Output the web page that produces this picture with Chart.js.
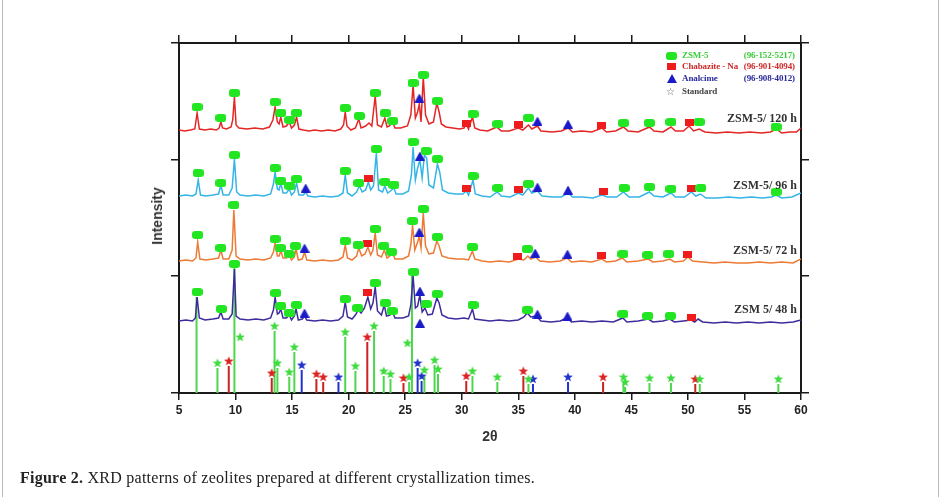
<!DOCTYPE html>
<html>
<head>
<meta charset="utf-8">
<script src="https://cdn.jsdelivr.net/npm/chart.js@4.4.0/dist/chart.umd.min.js"></script>
<style>
  body { margin: 0; background: #fff; }
  #wrap { position: relative; width: 941px; height: 497px; overflow: hidden; }
  #xrdChart { position: absolute; left: 0; top: 0; }
  .frame { position: absolute; top: 0; bottom: 0; width: 1px; background: #b8b8b8; }
  .tag { position: absolute; right: 144px; font: bold 12px 'Liberation Serif', serif; color: #333; white-space: nowrap; line-height: 14px; }
  .leg { position: absolute; left: 682px; width: 113px; display: flex; justify-content: space-between; font: bold 9px 'Liberation Serif', serif; line-height: 11px; white-space: nowrap; letter-spacing: -0.1px; }
  .sym { position: absolute; }
  #ytitle { position: absolute; left: 157px; top: 216px; transform: translate(-50%, -50%) rotate(-90deg); font: bold 14px 'Liberation Sans', Arial, sans-serif; color: #333; }
  #xtitle { position: absolute; left: 490px; top: 436px; transform: translate(-50%, -50%); font: bold 14px 'Liberation Sans', Arial, sans-serif; color: #333; }
  #caption { position: absolute; left: 20px; top: 468px; font: 16px 'Liberation Serif', serif; color: #222; white-space: nowrap; letter-spacing: 0.25px; line-height: 19px; }
</style>
</head>
<body>
<div id="wrap">
  <canvas id="xrdChart" width="941" height="497"></canvas>
  <div class="frame" style="left:2px"></div>
  <div class="frame" style="left:938px"></div>

  <div class="sym" style="left:666px;top:52px;width:11px;height:8px;border-radius:3px;background:#22e622"></div>
  <div class="sym" style="left:667px;top:63px;width:9px;height:7px;background:#ee1c1c"></div>
  <div class="sym" style="left:667px;top:74px;width:0;height:0;border-left:5px solid transparent;border-right:5px solid transparent;border-bottom:9px solid #1a1ac8"></div>
  <div class="sym" style="left:666px;top:86px;font:10px 'DejaVu Sans';color:#555;line-height:12px">☆</div>
  <div class="leg" style="top:50px;color:#3ccc3c"><span>ZSM-5</span><span>(96-152-5217)</span></div>
  <div class="leg" style="top:61px;color:#cc2a2a"><span>Chabazite - Na</span><span>(96-901-4094)</span></div>
  <div class="leg" style="top:73px;color:#2a2a9e"><span>Analcime</span><span>(96-908-4012)</span></div>
  <div class="leg" style="top:86px;color:#444"><span>Standard</span></div>

  <div class="tag" style="top:111px">ZSM-5/ 120 h</div>
  <div class="tag" style="top:178px">ZSM-5/ 96 h</div>
  <div class="tag" style="top:243px">ZSM-5/ 72 h</div>
  <div class="tag" style="top:302px">ZSM 5/ 48 h</div>

  <div id="ytitle">Intensity</div>
  <div id="xtitle">2θ</div>
  <div id="caption"><b>Figure 2.</b> XRD patterns of zeolites prepared at different crystallization times.</div>
</div>
<script>
// measured patterns, [2theta, intensity incl. stacking offset]
const pattern120h = [
  [5.0, 263], [5.5, 262], [6.0, 263], [6.4, 264], [6.6, 280], [6.8, 264], [7.3, 263], [7.8, 264], [8.3, 263],
  [8.55, 265], [8.7, 271], [8.85, 265], [9.2, 264], [9.6, 266], [9.75, 273], [9.9, 296], [10.05, 268], [10.3, 265],
  [11.0, 264], [11.7, 265], [12.4, 264], [13.0, 266], [13.3, 273], [13.5, 286], [13.7, 271], [13.85, 269], [14.0, 276],
  [14.2, 266], [14.5, 267], [14.75, 271], [14.95, 265], [15.2, 268], [15.4, 276], [15.6, 264], [16.0, 263], [16.5, 262],
  [17.0, 263], [17.6, 262], [18.2, 263], [18.8, 262], [19.3, 264], [19.55, 268], [19.7, 281], [19.85, 267], [20.2, 263],
  [20.6, 265], [20.9, 274], [21.1, 265], [21.5, 267], [21.8, 270], [22.05, 267], [22.35, 297], [22.55, 268], [22.9, 266],
  [23.2, 275], [23.4, 266], [23.6, 267], [23.9, 271], [24.1, 265], [24.6, 265], [25.2, 267], [25.5, 278], [25.7, 308],
  [25.9, 275], [26.1, 281], [26.25, 289], [26.4, 271], [26.6, 316], [26.8, 278], [27.1, 269], [27.5, 271], [27.8, 290],
  [28.0, 281], [28.2, 269], [28.6, 266], [29.2, 265], [29.8, 264], [30.2, 265], [30.4, 269], [30.6, 264], [30.95, 276],
  [31.15, 265], [31.6, 263], [32.3, 262], [33.1, 266], [33.5, 262], [34.2, 262], [35.0, 265], [35.4, 263], [35.9, 268],
  [36.2, 264], [36.7, 267], [37.0, 262], [38.0, 261], [38.8, 262], [39.4, 265], [39.8, 261], [40.6, 262], [41.5, 261],
  [42.4, 265], [42.8, 261], [43.6, 262], [44.3, 266], [44.7, 262], [45.6, 261], [46.6, 266], [47.0, 262], [47.8, 261],
  [48.5, 266], [48.9, 262], [49.6, 262], [50.1, 267], [50.5, 262], [51.0, 264], [51.5, 261], [52.5, 260], [53.5, 261],
  [54.5, 260], [55.5, 261], [56.5, 260], [57.3, 261], [57.8, 264], [58.3, 260], [59.0, 261], [59.6, 261], [60.0, 265]
]
const pattern96h = [
  [5.0, 197], [5.6, 198], [6.2, 197], [6.5, 199], [6.7, 213], [6.9, 198], [7.4, 197], [8.0, 198], [8.5, 199],
  [8.7, 208], [8.9, 198], [9.4, 198], [9.7, 205], [9.9, 234], [10.1, 201], [10.4, 198], [11.1, 197], [11.8, 198],
  [12.5, 197], [13.1, 199], [13.35, 209], [13.5, 221], [13.7, 204], [13.85, 203], [14.0, 210], [14.2, 200], [14.5, 200],
  [14.75, 204], [14.95, 198], [15.2, 201], [15.4, 210], [15.6, 198], [16.0, 198], [16.2, 201], [16.4, 197], [17.0, 196],
  [17.7, 197], [18.4, 196], [19.1, 197], [19.5, 200], [19.7, 218], [19.9, 200], [20.3, 197], [20.7, 201], [20.95, 207],
  [21.2, 201], [21.5, 203], [21.75, 211], [21.95, 203], [22.2, 207], [22.45, 240], [22.65, 203], [23.0, 201], [23.2, 207],
  [23.45, 200], [23.7, 202], [24.0, 205], [24.2, 199], [24.8, 199], [25.3, 202], [25.55, 218], [25.7, 246], [25.9, 213],
  [26.1, 225], [26.3, 233], [26.5, 215], [26.7, 238], [26.9, 235], [27.1, 208], [27.5, 205], [27.85, 229], [28.05, 221],
  [28.3, 203], [28.8, 200], [29.5, 199], [30.1, 199], [30.4, 202], [30.6, 198], [31.0, 213], [31.2, 199], [31.8, 197],
  [32.5, 196], [33.15, 201], [33.5, 197], [34.3, 196], [35.0, 200], [35.4, 198], [35.9, 205], [36.2, 200], [36.7, 202],
  [37.1, 197], [38.0, 196], [38.8, 196], [39.4, 200], [39.8, 196], [40.7, 196], [41.6, 195], [42.4, 198], [42.9, 196],
  [43.7, 196], [44.3, 201], [44.8, 196], [45.7, 196], [46.6, 201], [47.0, 197], [47.8, 196], [48.5, 200], [48.9, 196],
  [49.7, 196], [50.3, 201], [50.7, 197], [51.1, 199], [51.6, 195], [52.6, 195], [53.6, 196], [54.6, 195], [55.6, 196],
  [56.6, 195], [57.4, 196], [57.8, 198], [58.3, 195], [59.2, 196], [60.0, 200]
]
const pattern72h = [
  [5.0, 132], [5.6, 133], [6.2, 132], [6.5, 135], [6.65, 151], [6.85, 134], [7.4, 133], [8.0, 134], [8.5, 135],
  [8.7, 143], [8.9, 134], [9.4, 134], [9.7, 143], [9.85, 183], [10.05, 137], [10.4, 134], [11.1, 133], [11.8, 134],
  [12.5, 133], [13.1, 135], [13.35, 141], [13.5, 150], [13.7, 137], [13.85, 137], [14.0, 142], [14.2, 135], [14.5, 135],
  [14.75, 137], [14.95, 133], [15.2, 136], [15.35, 144], [15.55, 133], [15.9, 134], [16.1, 141], [16.3, 133], [17.0, 132],
  [17.7, 133], [18.4, 132], [19.1, 133], [19.5, 136], [19.7, 148], [19.9, 135], [20.3, 133], [20.7, 137], [20.9, 145],
  [21.15, 137], [21.45, 139], [21.7, 146], [21.95, 138], [22.15, 143], [22.35, 160], [22.55, 138], [22.9, 136], [23.15, 143],
  [23.4, 135], [23.65, 137], [23.85, 141], [24.1, 134], [24.8, 134], [25.3, 137], [25.5, 148], [25.65, 168], [25.85, 143],
  [26.1, 151], [26.25, 157], [26.4, 145], [26.6, 180], [26.8, 147], [27.1, 139], [27.5, 140], [27.8, 152], [28.0, 147],
  [28.25, 137], [28.8, 135], [29.5, 134], [30.2, 134], [30.6, 133], [30.95, 142], [31.15, 134], [31.8, 132], [32.5, 131],
  [33.3, 132], [34.2, 131], [35.0, 134], [35.5, 133], [35.85, 137], [36.1, 134], [36.55, 136], [36.9, 132], [37.8, 131],
  [38.7, 132], [39.3, 135], [39.7, 131], [40.6, 132], [41.5, 131], [42.4, 134], [42.8, 131], [43.6, 132], [44.2, 135],
  [44.6, 131], [45.6, 132], [46.5, 134], [46.9, 131], [47.8, 132], [48.4, 134], [48.8, 131], [49.6, 132], [50.0, 136],
  [50.4, 132], [51.3, 131], [52.3, 130], [53.3, 131], [54.3, 130], [55.3, 130], [56.3, 131], [57.3, 130], [58.3, 131],
  [59.3, 130], [60.0, 134]
]
const pattern48h = [
  [5.0, 72], [5.6, 73], [6.2, 72], [6.45, 75], [6.6, 96], [6.8, 75], [7.3, 73], [8.0, 74], [8.5, 75], [8.7, 81],
  [8.9, 74], [9.4, 74], [9.7, 79], [9.9, 124], [10.05, 77], [10.4, 74], [11.1, 73], [11.8, 74], [12.5, 73], [13.1, 75],
  [13.35, 83], [13.5, 96], [13.7, 79], [13.85, 80], [14.0, 84], [14.2, 75], [14.5, 75], [14.75, 78], [14.95, 73],
  [15.2, 77], [15.35, 84], [15.55, 73], [15.9, 74], [16.1, 77], [16.3, 73], [17.0, 72], [17.7, 73], [18.4, 72],
  [19.1, 73], [19.5, 77], [19.7, 91], [19.9, 76], [20.3, 74], [20.6, 78], [20.85, 83], [21.1, 80], [21.4, 85],
  [21.7, 96], [21.95, 84], [22.15, 90], [22.35, 106], [22.55, 82], [22.9, 78], [23.15, 88], [23.35, 77], [23.65, 78],
  [23.85, 82], [24.1, 75], [24.8, 75], [25.3, 77], [25.5, 88], [25.7, 117], [25.9, 85], [26.1, 87], [26.3, 98],
  [26.5, 81], [26.75, 85], [27.0, 78], [27.4, 79], [27.8, 95], [28.0, 90], [28.25, 78], [28.8, 75], [29.5, 74],
  [30.2, 75], [30.6, 74], [30.95, 84], [31.15, 74], [31.8, 73], [32.5, 72], [33.3, 73], [34.2, 72], [35.0, 73],
  [35.5, 76], [35.8, 80], [36.1, 76], [36.6, 77], [37.0, 72], [37.9, 71], [38.7, 72], [39.35, 75], [39.7, 71],
  [40.6, 72], [41.5, 71], [42.4, 72], [43.4, 71], [44.25, 75], [44.6, 71], [45.6, 72], [46.5, 74], [46.9, 71],
  [47.8, 72], [48.4, 74], [48.8, 71], [49.6, 72], [50.3, 73], [50.6, 71], [50.9, 74], [51.3, 71], [52.3, 70],
  [53.3, 71], [54.3, 70], [55.3, 71], [56.3, 70], [57.3, 71], [58.3, 70], [59.3, 71], [60.0, 73]
]

// phase markers placed over the peaks
const zsmMarks = [
  [6.6, 286], [8.7, 275], [9.9, 300], [13.5, 291], [14.0, 280], [14.8, 273], [15.4, 280], [19.7, 285], [20.95, 277],
  [22.35, 300], [23.25, 280], [23.9, 272], [25.7, 310], [26.6, 318], [27.85, 292], [31.0, 279], [33.2, 269], [35.9, 275],
  [44.3, 270], [46.6, 270], [48.5, 271], [51.0, 271], [57.8, 266],
  [6.7, 220], [8.7, 210], [9.9, 238], [13.5, 225], [14.0, 212], [14.8, 207], [15.4, 214], [19.7, 222], [20.9, 210],
  [22.45, 244], [23.2, 211], [24.0, 208], [25.7, 251], [26.85, 242], [27.85, 234], [31.0, 217], [33.2, 205], [35.9, 209],
  [44.35, 205], [46.6, 206], [48.5, 204], [51.15, 205], [57.8, 201],
  [6.65, 158], [8.7, 145], [9.85, 188], [13.5, 154], [13.95, 145], [14.75, 139], [15.3, 147], [19.7, 152], [20.85, 148],
  [22.35, 164], [23.1, 147], [23.8, 141], [25.65, 172], [26.6, 184], [27.85, 156], [30.95, 146], [35.8, 144],
  [44.25, 139], [46.45, 138], [48.3, 139],
  [6.6, 101], [8.75, 84], [9.9, 129], [13.55, 100], [14.0, 87], [14.75, 80], [15.4, 88], [19.7, 94], [20.8, 85],
  [22.35, 110], [23.25, 90], [23.85, 82], [25.75, 121], [26.85, 89], [27.85, 99], [31.0, 88], [35.8, 83],
  [44.25, 79], [46.45, 77], [48.45, 77]
]
const chabMarks = [
  [30.4, 270], [35.0, 269], [42.4, 268], [50.1, 271],
  [21.75, 215], [30.4, 205], [35.0, 204], [42.5, 202], [50.35, 205],
  [21.7, 150], [34.95, 137], [42.4, 138], [50.0, 139],
  [21.7, 101], [50.35, 76]
]
const analMarks = [
  [26.25, 295], [36.7, 272], [39.4, 269],
  [16.2, 205], [26.3, 237], [36.7, 206], [39.4, 203],
  [16.1, 145], [26.25, 161], [36.5, 140], [39.35, 139],
  [16.1, 80], [26.3, 102], [26.3, 70], [36.7, 79], [39.35, 77]
]

// standard reference sticks, [2theta, height]
const zsmSticks = [
  [8.4, 25], [13.45, 62], [13.7, 25], [14.75, 16], [15.2, 41], [19.7, 56], [20.6, 22], [22.25, 62], [23.1, 17],
  [23.7, 14], [25.35, 11], [26.7, 18], [27.6, 28], [27.9, 19], [30.95, 17], [33.15, 11], [35.9, 9], [44.3, 11],
  [44.45, 6], [46.6, 10], [48.5, 10], [51.05, 9], [58.0, 9]
]
const zsmTallSticks = [[6.55, 96], [9.9, 130], [25.6, 123]]
const zsmLoneStars = [[10.4, 56], [25.2, 50]]
const chabSticks = [
  [9.4, 27], [13.2, 15], [17.15, 14], [17.75, 11], [21.65, 51], [24.85, 10], [30.4, 12], [35.45, 17], [42.5, 11], [50.65, 9]
]
const analSticks = [[15.85, 23], [19.1, 11], [26.1, 25], [26.45, 12], [36.3, 9], [39.4, 11]]

const xTicksMin = 5
const xTicksMax = 60
const yTicks = [0, 117, 233, 350]

const canvas = document.getElementById('xrdChart')
const ctx = canvas.getContext('2d')

function makeImage (w, h, draw) {
  const c = document.createElement('canvas')
  c.width = w
  c.height = h
  draw(c.getContext('2d'))
  return c
}

function roundedBox (color) {
  return makeImage(11, 8, g => {
    g.fillStyle = color
    g.beginPath()
    g.moveTo(3, 0); g.lineTo(8, 0); g.quadraticCurveTo(11, 0, 11, 3); g.lineTo(11, 5)
    g.quadraticCurveTo(11, 8, 8, 8); g.lineTo(3, 8); g.quadraticCurveTo(0, 8, 0, 5); g.lineTo(0, 3)
    g.quadraticCurveTo(0, 0, 3, 0)
    g.fill()
  })
}

function square (color) {
  return makeImage(9, 7, g => { g.fillStyle = color; g.fillRect(0, 0, 9, 7) })
}

function triangle (color) {
  return makeImage(10, 9, g => {
    g.fillStyle = color
    g.beginPath(); g.moveTo(5, 0); g.lineTo(10, 9); g.lineTo(0, 9); g.closePath(); g.fill()
  })
}

function star (color) {
  return makeImage(10, 10, g => {
    g.fillStyle = color
    g.beginPath()
    for (let i = 0; i < 10; i++) {
      const r = i % 2 === 0 ? 5 : 2.1
      const a = -Math.PI / 2 + i * Math.PI / 5
      g.lineTo(5 + r * Math.cos(a), 5.3 + r * Math.sin(a))
    }
    g.closePath()
    g.fill()
  })
}

const toPoints = arr => arr.map(p => ({ x: p[0], y: p[1] }))

function stickPoints (arr) {
  const pts = []
  arr.forEach(p => {
    pts.push({ x: p[0], y: 0 }, { x: p[0], y: p[1] }, { x: p[0], y: null })
  })
  return pts
}

const starTop = arr => arr.map(p => ({ x: p[0], y: p[1] + 5 }))

function markerSet (data, img) {
  return { type: 'scatter', data: toPoints(data), pointStyle: img, pointRadius: 5, showLine: false }
}

function patternSet (data, color) {
  return { data: toPoints(data), borderColor: color, borderWidth: 1.5, pointRadius: 0, tension: 0, fill: false }
}

function stickSet (data, color) {
  return { data: stickPoints(data), borderColor: color, borderWidth: 2, pointRadius: 0, spanGaps: false, fill: false }
}

const green = '#22e622'
const stickGreen = '#4fd64f'
const stickRed = '#cc2222'
const stickBlue = '#2233cc'

const datasets = [
  markerSet(zsmMarks, roundedBox(green)),
  markerSet(chabMarks, square('#ee1c1c')),
  markerSet(analMarks, triangle('#1a1ac8')),
  { type: 'scatter', data: starTop(zsmSticks).concat(toPoints(zsmLoneStars)), pointStyle: star('#3fdc3f'), pointRadius: 5 },
  { type: 'scatter', data: starTop(chabSticks), pointStyle: star('#dd2424'), pointRadius: 5 },
  { type: 'scatter', data: starTop(analSticks), pointStyle: star('#2233cc'), pointRadius: 5 },
  patternSet(pattern120h, '#e32626'),
  patternSet(pattern96h, '#35b4e6'),
  patternSet(pattern72h, '#ec7a35'),
  patternSet(pattern48h, '#3d2c9c'),
  stickSet(zsmSticks, stickGreen),
  stickSet(zsmTallSticks, stickGreen),
  stickSet(chabSticks, stickRed),
  stickSet(analSticks, stickBlue)
]

const axisStyle = {
  grid: { drawOnChartArea: false, drawTicks: true, tickLength: 8, color: '#1a1a1a', lineWidth: 1.5 },
  border: { display: true, color: '#1a1a1a', width: 2 }
}

const hidden = { color: 'rgba(0,0,0,0)' }

new Chart(ctx, {
  type: 'line',
  data: { datasets: datasets },
  options: {
    responsive: false,
    animation: false,
    events: [],
    layout: { padding: { left: 179, top: 43, right: 140, bottom: 74 } },
    plugins: { legend: { display: false }, tooltip: { enabled: false } },
    scales: {
      x: {
        type: 'linear', position: 'bottom', min: xTicksMin, max: xTicksMax,
        ticks: { stepSize: 5, color: '#222', padding: 3, maxRotation: 0, autoSkip: false, font: { family: "'Liberation Sans Narrow', 'Arial Narrow', 'Liberation Sans'", size: 12, weight: 'bold' } },
        grid: { ...axisStyle.grid, tickLength: 7 },
        border: axisStyle.border,
        afterFit: s => { s.height = 30 }
      },
      xTop: {
        type: 'linear', position: 'top', min: xTicksMin, max: xTicksMax,
        ticks: { stepSize: 5, ...hidden },
        grid: axisStyle.grid,
        border: axisStyle.border,
        afterFit: s => { s.height = 0 }
      },
      y: {
        type: 'linear', position: 'left', min: 0, max: 350,
        afterBuildTicks: s => { s.ticks = yTicks.map(v => ({ value: v })) },
        ticks: hidden,
        grid: axisStyle.grid,
        border: axisStyle.border,
        afterFit: s => { s.width = 0 }
      },
      yRight: {
        type: 'linear', position: 'right', min: 0, max: 350,
        afterBuildTicks: s => { s.ticks = yTicks.map(v => ({ value: v })) },
        ticks: hidden,
        grid: axisStyle.grid,
        border: axisStyle.border,
        afterFit: s => { s.width = 0 }
      }
    }
  }
})
</script>
</body>
</html>
